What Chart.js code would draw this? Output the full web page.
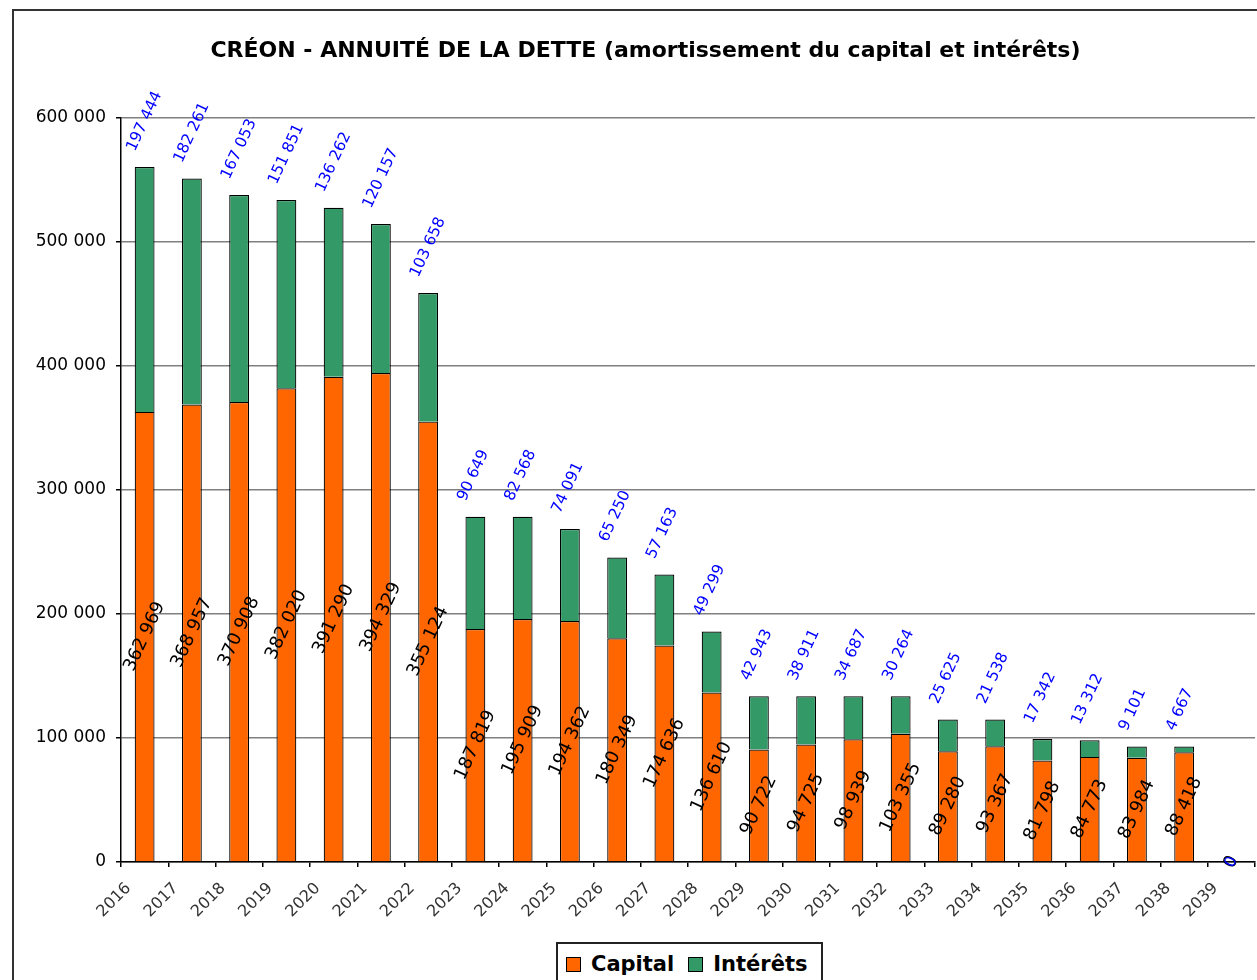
<!DOCTYPE html>
<html>
<head>
<meta charset="utf-8">
<script src="https://cdn.jsdelivr.net/npm/chart.js@4.4.1/dist/chart.umd.min.js"></script>
<style>
  html, body { margin: 0; padding: 0; background: #fff; width: 1257px; height: 980px; overflow: hidden; }
  #frame { position: absolute; left: 12px; top: 9px; width: 1400px; height: 1100px; border: 2px solid #333; z-index: 0; }
  #wrap { position: absolute; left: 0; top: 0; width: 1257px; height: 980px; z-index: 1; }
  #legend { position: absolute; left: 556px; top: 942px; width: 267px; height: 40px; border: 2px solid #222; background: #fff; z-index: 2;
            display: flex; align-items: flex-start; padding-top: 8px; box-sizing: border-box;
            font-family: 'DejaVu Sans', sans-serif; font-weight: bold; font-size: 21px; color: #000; }
  #legend .item { display: flex; align-items: center; margin-left: 8px; }
  #legend .item + .item { margin-left: 14px; }
  #legend .sw { width: 13px; height: 13px; border: 1px solid #000; margin-right: 10px; }
</style>
</head>
<body>
<div id="frame"></div>
<div id="wrap"><canvas id="c" width="1257" height="980"></canvas></div>
<div id="legend"></div>
<script>
const titleText = 'CRÉON - ANNUITÉ DE LA DETTE (amortissement du capital et intérêts)';
const years = ['2016','2017','2018','2019','2020','2021','2022','2023','2024','2025','2026','2027',
               '2028','2029','2030','2031','2032','2033','2034','2035','2036','2037','2038','2039'];
const capital = [362969, 368957, 370908, 382020, 391290, 394329, 355124, 187819, 195909, 194362, 180349, 174636,
                 136610, 90722, 94725, 98939, 103355, 89280, 93367, 81798, 84773, 83984, 88418, 0];
const interets = [197444, 182261, 167053, 151851, 136262, 120157, 103658, 90649, 82568, 74091, 65250, 57163,
                  49299, 42943, 38911, 34687, 30264, 25625, 21538, 17342, 13312, 9101, 4667, 0];
const yTicks = [0, 100000, 200000, 300000, 400000, 500000, 600000];
const seriesNames = ['Capital', 'Intérêts'];
const seriesColors = ['#FF6600', '#339966'];

const fmt = v => String(v).replace(/\B(?=(\d{3})+(?!\d))/g, ' ');
const FONT = "'DejaVu Sans', sans-serif";

const labelPlugin = {
  id: 'barLabels',
  afterDatasetsDraw(chart) {
    const ctx = chart.ctx;
    const m0 = chart.getDatasetMeta(0).data;
    const m1 = chart.getDatasetMeta(1).data;
    const ang = -65 * Math.PI / 180;
    ctx.save();
    // capital labels, centred on segment
    ctx.font = '18px ' + FONT;
    ctx.fillStyle = '#000';
    ctx.textAlign = 'center';
    ctx.textBaseline = 'middle';
    m0.forEach((b, i) => {
      const yc = (b.y + b.base) / 2;
      ctx.save();
      ctx.translate(b.x, yc);
      ctx.rotate(ang);
      ctx.fillText(fmt(capital[i]), 0, 0);
      ctx.restore();
    });
    // interest labels, above stack
    ctx.font = '15.5px ' + FONT;
    ctx.fillStyle = '#0000FF';
    m1.forEach((b, i) => {
      ctx.save();
      if (interets[i] === 0) {
        ctx.textAlign = 'center';
        ctx.textBaseline = 'middle';
        ctx.translate(b.x, b.y);
      } else {
        ctx.textAlign = 'left';
        ctx.textBaseline = 'alphabetic';
        ctx.translate(b.x - 10, b.y - 15);
      }
      ctx.rotate(ang);
      ctx.fillText(fmt(interets[i]), 0, 0);
      ctx.restore();
    });
    ctx.restore();
  }
};

const chart = new Chart(document.getElementById('c'), {
  type: 'bar',
  data: {
    labels: years,
    datasets: [
      { label: seriesNames[0], data: capital, backgroundColor: seriesColors[0], borderColor: '#000', borderWidth: 1.2,
        barPercentage: 0.42, categoryPercentage: 1 },
      { label: seriesNames[1], data: interets, backgroundColor: seriesColors[1], borderColor: '#000', borderWidth: 1.2,
        barPercentage: 0.42, categoryPercentage: 1 }
    ]
  },
  options: {
    responsive: false,
    animation: false,
    devicePixelRatio: 1,
    layout: { padding: { left: 34, right: 0, top: 0, bottom: 58 } },
    plugins: {
      legend: { display: false },
      tooltip: { enabled: false },
      title: {
        display: true, text: titleText, color: '#000',
        font: { family: FONT, size: 22, weight: 'bold', lineHeight: 1.2 },
        padding: { top: 38, bottom: 53.6 }
      }
    },
    scales: {
      x: {
        stacked: true,
        grid: { drawOnChartArea: false, drawTicks: true, tickLength: 5, tickColor: '#000', lineWidth: 1.5 },
        border: { display: true, color: '#000', width: 1.5 },
        ticks: { autoSkip: false, maxRotation: 45, minRotation: 45, labelOffset: -16, padding: 12,
                 color: '#333', font: { family: FONT, size: 16 } },
        afterFit(scale) { scale.height = 60; }
      },
      y: {
        stacked: true,
        min: yTicks[0], max: yTicks[yTicks.length - 1],
        afterBuildTicks(scale) { scale.ticks = yTicks.map(v => ({ value: v })); },
        grid: { color: '#808080', lineWidth: 1.5, tickLength: 5, tickColor: '#000' },
        border: { display: true, color: '#000', width: 1.5 },
        ticks: { padding: 10, color: '#000', font: { family: FONT, size: 17 }, callback: v => fmt(v) },
        afterFit(scale) { scale.width = 87; }
      }
    }
  },
  plugins: [labelPlugin]
});

// HTML legend built from the chart's datasets
const lg = document.getElementById('legend');
chart.data.datasets.forEach(ds => {
  const it = document.createElement('div'); it.className = 'item';
  const sw = document.createElement('div'); sw.className = 'sw'; sw.style.background = ds.backgroundColor;
  const tx = document.createElement('span'); tx.textContent = ds.label;
  it.appendChild(sw); it.appendChild(tx); lg.appendChild(it);
});
</script>
</body>
</html>
